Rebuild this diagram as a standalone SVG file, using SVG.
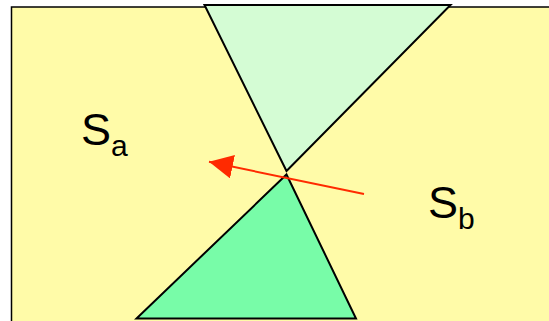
<svg xmlns="http://www.w3.org/2000/svg" width="549" height="321" viewBox="0 0 549 321">
<defs>
<style>
.lbl{font-family:"Liberation Sans",Arial,sans-serif;font-size:45px;fill:#000}
.sub{font-size:30px}
.tri{stroke:#000;stroke-width:2;stroke-linejoin:miter}
</style>
<marker id="ah" markerUnits="userSpaceOnUse" markerWidth="24" markerHeight="24" refX="20" refY="10" orient="auto" viewBox="0 0 20 20">
<path d="M0,0 L20,10 L0,20 Z" fill="#ff2a00"/>
</marker>
</defs>
<rect width="549" height="321" fill="#fff"/>
<g id="region">
<rect x="11.5" y="7" width="560" height="340" fill="#fffba8" stroke="#000" stroke-width="1.5"/>
</g>
<g id="top-cone">
<polygon class="tri" points="204.5,5 450.5,5 286.5,171" fill="#d4fcd4"/>
</g>
<g id="bottom-cone">
<polygon class="tri" points="286.5,174.5 356,318.5 136.5,318.5" fill="#78fca8"/>
</g>
<g id="connectors">
<line x1="364" y1="194" x2="209" y2="161.8" stroke="#ff2a00" stroke-width="2" marker-end="url(#ah)"/>
</g>
<g id="label-sa">
<text class="lbl" x="81" y="145">S<tspan class="sub" dy="11">a</tspan></text>
</g>
<g id="label-sb">
<text class="lbl" x="428" y="218">S<tspan class="sub" dy="11">b</tspan></text>
</g>
</svg>
